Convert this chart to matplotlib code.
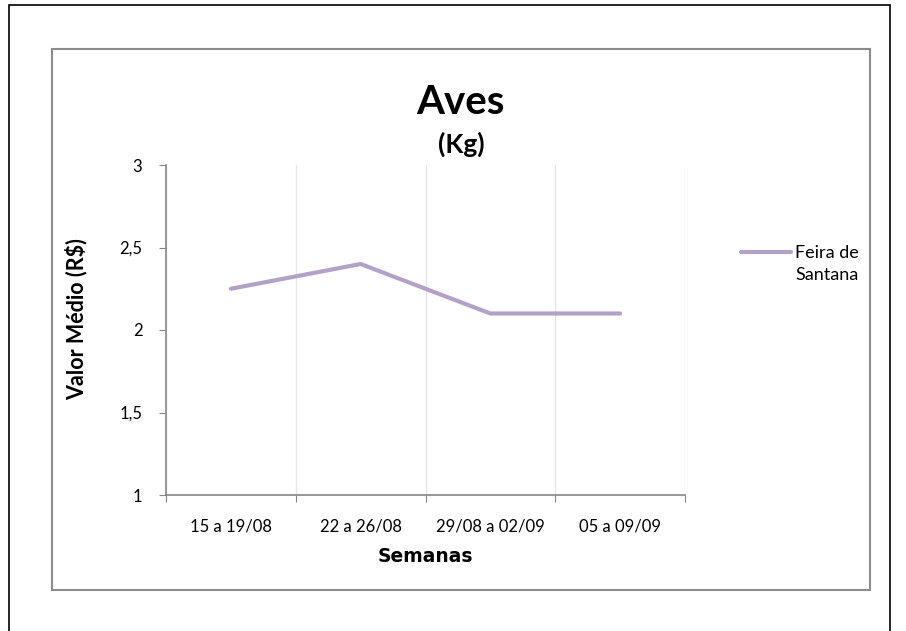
import matplotlib.pyplot as plt
from matplotlib.patches import Rectangle
from matplotlib.transforms import Affine2D

semanas = ["15 a 19/08", "22 a 26/08", "29/08 a 02/09", "05 a 09/09"]
feira_de_santana = [2.25, 2.4, 2.1, 2.1]
y_ticks = [1, 1.5, 2, 2.5, 3]
y_labels = ["1", "1,5", "2", "2,5", "3"]

plt.rcParams['font.family'] = ['Lato', 'DejaVu Sans']

W, H = 906, 631
fig = plt.figure(figsize=(W / 100, H / 100), dpi=100)

# page frame and chart area frame
fig.patches.append(Rectangle((9 / W, -0.1), 881 / W, 1.1 - 5 / H, transform=fig.transFigure,
                             fill=False, edgecolor="black", linewidth=1.2))
fig.patches.append(Rectangle((52 / W, 1 - 590 / H), 818 / W, 541 / H, transform=fig.transFigure,
                             fill=False, edgecolor="#8c8c8c", linewidth=1.5))

ax = fig.add_axes([166 / W, 1 - 495 / H, 519 / W, 330 / H])
x = [i + 0.5 for i in range(len(semanas))]
ax.plot(x, feira_de_santana, color="#b3a2c7", linewidth=3, solid_capstyle="round",
        label="Feira de\nSantana")

ax.set_xlim(0, len(semanas))
ax.set_ylim(1, 3)
ax.set_xticks(range(len(semanas) + 1))
ax.set_xticklabels([])
ax.set_xticks(x, minor=True)
ax.set_xticklabels(semanas, minor=True, fontsize=12)
ax.tick_params(axis="x", which="minor", length=0, pad=17)
ax.tick_params(axis="x", which="major", length=5, color="#868686", direction="out")
ax.set_yticks(y_ticks)
ax.set_yticklabels(y_labels, fontsize=12)
ax.tick_params(axis="y", length=5, color="#868686", direction="out", pad=12)
ax.grid(axis="x", which="major", color="#e6e6e6", linewidth=1)

for side in ["top", "right"]:
    ax.spines[side].set_visible(False)
for side in ["left", "bottom"]:
    ax.spines[side].set_color("#868686")
    ax.spines[side].set_linewidth(1.2)

ax.set_xlabel("Semanas", fontsize=13.5, fontweight="bold", family=["DejaVu Sans"], labelpad=9)
ax.set_ylabel("Valor Médio (R$)", fontsize=15.5, fontweight="bold")
ax.yaxis.set_label_coords(-0.152, 0.533)

fig.text(460 / W, 1 - 103 / H, "Aves", ha="center", va="center", fontsize=29, fontweight="bold")
fig.text(461 / W, 1 - 144 / H, "(Kg)", ha="center", va="center", fontsize=19, fontweight="bold")

leg = ax.legend(loc="upper left", bbox_to_anchor=(741 / W, 1 - 245 / H), bbox_transform=fig.transFigure,
                frameon=False, fontsize=13, handlelength=2.75, handletextpad=0.25, borderaxespad=0,
                borderpad=0)
for t in leg.get_texts():
    t.set_linespacing(1.45)
# keep the legend line level with the first line of the label
for ln in leg.get_lines():
    ln.set_transform(ln.get_transform() + Affine2D().translate(0, 12))

fig.savefig("out.png", dpi=100)
